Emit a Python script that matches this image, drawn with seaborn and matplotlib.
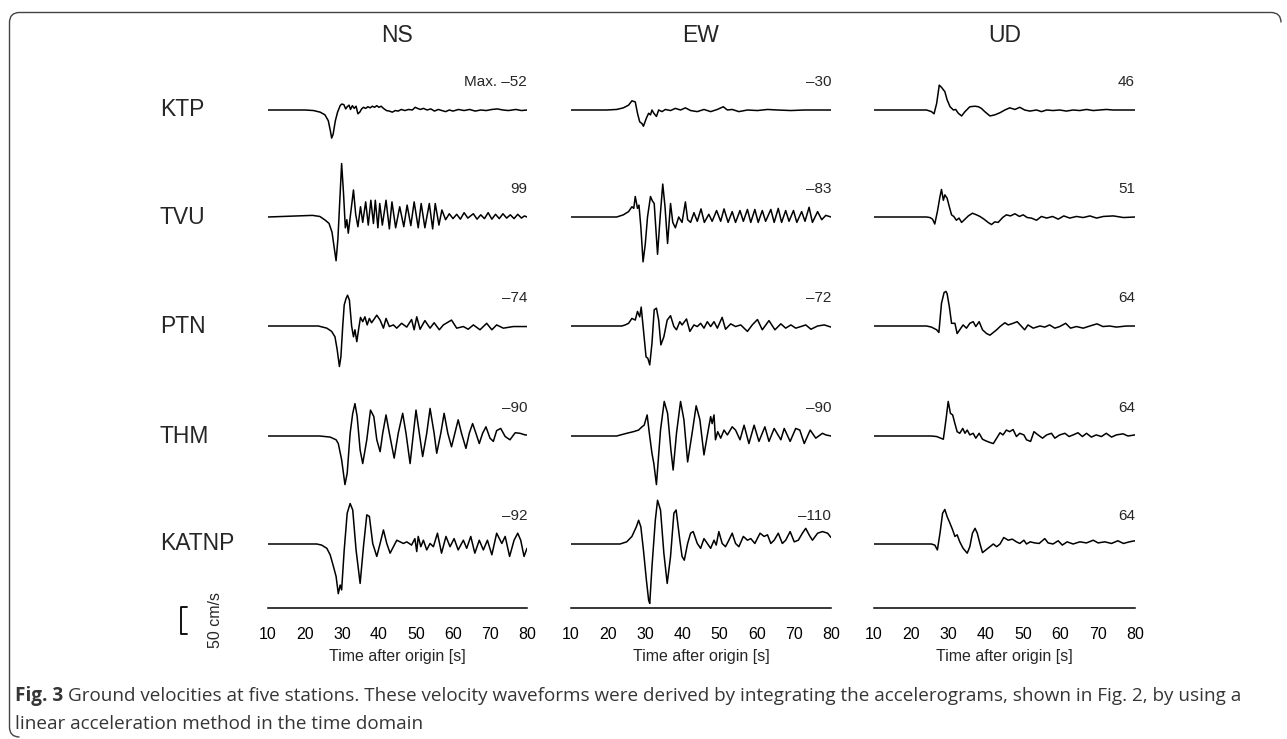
import pandas as pd
import matplotlib
matplotlib.use("Agg")
import matplotlib.pyplot as plt
from matplotlib.path import Path
from matplotlib.patches import PathPatch
from matplotlib.transforms import IdentityTransform
import seaborn as sns

stations = ["KTP", "TVU", "PTN", "THM", "KATNP"]
components = ["NS", "EW", "UD"]
time_ticks = [10, 20, 30, 40, 50, 60, 70, 80]

# peak value written at the right end of each trace (cm/s)
max_ns = ["Max. \u201352", "99", "\u201374", "\u201390", "\u201392"]
max_ew = ["\u201330", "\u201383", "\u201372", "\u201390", "\u2013110"]
max_ud = ["46", "51", "64", "64", "64"]

# velocity waveforms: (time after origin [s], velocity [cm/s])
ktp_ns = [(10, 0), (20, 0), (22.3, -1), (24.1, -4), (25.4, -9), (26.3, -20), (26.9, -40), (27.2, -52),
          (27.6, -45), (28.2, -20), (28.8, -4), (29.5, 8), (29.9, 11), (30.5, 10), (31.0, 2), (31.4, 6),
          (31.9, 9), (32.3, 1), (32.8, 8), (33.3, 3), (33.8, 7), (34.3, -7), (34.8, -4), (35.3, 2),
          (35.8, 5), (36.4, 3), (37.0, 6), (37.6, 4), (38.2, 7), (38.8, 5), (39.4, 8), (40.0, 5),
          (40.6, 7), (41.2, 3), (42.0, -1), (42.8, -2), (43.6, -4), (44.4, -1), (45.2, -2), (46.0, 1),
          (47.0, -1), (48.0, 1), (49.0, 0), (49.8, 5), (50.4, 3), (51.2, 1), (52.0, 3), (53.0, 0),
          (54.0, 2), (55.0, -2), (56.0, 1), (57.0, -1), (58.0, -3), (59.0, 0), (60.0, -2), (61.5, 1),
          (63.0, -1), (64.5, 1), (66.0, -2), (67.5, 0), (69.0, -1), (70.5, 1), (72.0, 2), (73.5, 0),
          (75.0, -1), (77.0, 1), (78.5, -1), (80, 0)]
tvu_ns = [(10, 0), (22, 3), (24, 1), (25.5, -6), (26.5, -12), (27.3, -28), (28.0, -62), (28.4, -81),
          (28.9, -40), (29.4, 30), (29.9, 99), (30.4, 45), (30.9, -20), (31.3, -5), (31.7, -30), (32.4, 10),
          (33.1, 50), (33.7, 5), (34.3, -18), (35.0, 19), (35.6, -10), (36.4, 28), (37.1, -15), (37.8, 31),
          (38.5, -12), (39.0, 31), (39.7, -20), (40.2, 25), (40.9, -15), (41.9, 31), (42.8, -22), (43.5, 28),
          (44.5, -20), (45.6, 19), (46.7, -18), (47.6, 22), (48.6, -16), (49.5, 28), (50.6, -20), (51.4, 25),
          (52.4, -20), (53.6, 25), (54.5, -22), (55.2, 25), (56.2, -15), (57.0, 13), (58.0, -5), (59.0, 6),
          (60.0, -3), (61.0, 5), (62.0, -4), (63.0, 8), (64.0, -2), (65.5, 6), (66.5, -4), (67.5, 4),
          (68.5, -3), (69.5, 8), (70.5, -4), (71.5, 5), (72.5, -3), (73.5, 6), (74.5, -2), (75.5, 4),
          (76.5, -3), (77.5, 5), (78.5, -2), (79.3, 2), (80, 0)]
ptn_ns = [(10, 0), (23.6, 0), (25.9, -4), (27.2, -10), (28.1, -20), (28.7, -44), (29.3, -75), (29.7, -57),
          (30.2, 0), (30.6, 39), (31.1, 51), (31.5, 57), (32.0, 48), (32.6, 0), (33.1, -20), (33.5, -7),
          (34.0, -29), (34.6, -1), (35.0, 16), (35.6, 8), (36.2, 17), (36.8, 2), (37.4, 14), (38.0, 6),
          (39.4, 20), (40.3, 11), (41.2, -4), (41.9, 14), (42.8, -1), (43.9, 2), (44.8, -4), (46.1, 5),
          (47.5, -2), (48.8, 12), (49.5, -7), (50.2, 17), (51.1, -6), (52.4, 10), (53.8, -4), (54.9, 6),
          (56.3, -7), (57.4, 2), (59.6, 11), (61.0, -4), (62.8, -1), (64.1, -6), (65.5, 2), (67.3, -7),
          (69.1, 5), (70.5, -7), (71.8, 2), (73.6, -4), (76.3, -1), (80, -1)]
thm_ns = [(10, 0), (24, 0), (26.8, -2), (28.4, -7), (29.0, -14), (29.9, -44), (30.8, -90), (31.4, -69),
          (32.2, 5), (32.9, 42), (33.5, 60), (34.1, 36), (34.9, -26), (35.6, -51), (36.7, -7), (37.7, 48),
          (38.6, 36), (39.4, -7), (40.3, -29), (41.0, 5), (41.9, 39), (42.8, 5), (44.1, -41), (45.2, 5),
          (46.4, 42), (47.3, 5), (48.4, -51), (49.3, 5), (50.0, 48), (50.9, 5), (51.8, -38), (52.9, 5),
          (53.8, 51), (54.9, 5), (55.6, -32), (56.7, 5), (57.6, 42), (58.6, 5), (59.6, -20), (60.5, 5),
          (61.4, 30), (62.3, 5), (63.5, -23), (64.4, 5), (65.3, 23), (66.2, 5), (67.1, -14), (68.0, 5),
          (68.9, 17), (70.0, -4), (70.9, -10), (71.8, 10), (72.9, 14), (74.1, -1), (75.4, -7), (76.8, 6),
          (78.1, 5), (79.5, 2), (80, 2)]
katnp_ns = [(10, 0), (23.2, 0), (24.5, -2), (25.9, -8), (26.8, -20), (27.7, -42), (28.4, -60), (29.0, -92),
            (29.5, -76), (29.9, -85), (30.6, -11), (31.4, 57), (32.2, 75), (32.9, 63), (33.8, -11), (34.9, -73),
            (35.8, -5), (36.7, 54), (37.4, 51), (38.3, 1), (39.4, -23), (40.3, 1), (41.2, 26), (42.1, 1),
            (43.0, -17), (43.9, -5), (44.8, 7), (45.7, 4), (46.6, 1), (47.5, 4), (48.8, -2), (49.7, 10),
            (50.2, -14), (50.6, 14), (51.3, -5), (52.0, 7), (52.9, -11), (53.8, 1), (54.7, -5), (55.8, 20),
            (56.9, -17), (58.1, 14), (59.2, -5), (60.3, 10), (61.4, -11), (62.8, 7), (63.7, -8), (64.8, 14),
            (65.9, -17), (67.1, 7), (68.2, -11), (69.3, 7), (70.5, -20), (71.8, 20), (73.2, 1), (74.1, 14),
            (75.3, -23), (76.5, 7), (77.5, 20), (78.3, 7), (79.2, -23), (80, -8)]

ktp_ew = [(10, 0), (19.6, 0), (22.3, 1), (24.1, 4), (25.5, 9), (26.4, 17), (27.3, 15), (27.9, -6),
          (28.5, -22), (29.1, -25), (29.5, -30), (30.3, -15), (30.9, -6), (31.4, -9), (31.8, 0), (32.3, -6),
          (33.0, -12), (33.6, 0), (34.5, -3), (35.4, 1), (36.8, -1), (38.1, 3), (39.5, 0), (40.8, 4),
          (42.2, -1), (44.0, -3), (45.8, 1), (47.6, -3), (49.4, 1), (51.0, 6), (52.1, 0), (53.4, 1),
          (55.2, -3), (57.5, 0), (60.2, -1), (62.9, 1), (65.6, 0), (69.2, -1), (72.8, 0), (80, 0)]
tvu_ew = [(10, 0), (22.3, 0), (24.1, 4), (25.5, 10), (26.4, 19), (26.9, 16), (27.3, 38), (27.9, 16),
          (28.3, 22), (28.8, -18), (29.4, -83), (30.0, -50), (30.6, 0), (31.4, 38), (31.9, 30), (32.4, 25),
          (33.3, -69), (34.0, 0), (34.7, 61), (35.3, 20), (36.0, -49), (36.8, 25), (37.4, -10), (38.1, -20),
          (39.0, 0), (39.9, -10), (40.8, 28), (41.4, -5), (42.2, -10), (43.1, 8), (44.0, -8), (45.0, 15),
          (45.9, -10), (47.1, 5), (48.0, -8), (49.2, 12), (50.3, -8), (51.2, 15), (52.3, -10), (53.4, 10),
          (54.3, -10), (55.5, 12), (56.4, -8), (57.5, 14), (58.4, -10), (59.5, 14), (60.4, -10), (61.5, 12),
          (62.4, -8), (63.8, 14), (64.7, -10), (65.8, 16), (66.7, -10), (67.8, 12), (68.7, -8), (69.9, 12),
          (70.8, -10), (72.1, 10), (73.0, -8), (74.1, 18), (75.0, -10), (76.4, 10), (77.5, -5), (78.6, 3),
          (80, 0)]
ptn_ew = [(10, 0), (23.7, 0), (24.6, 2), (25.5, 5), (26.4, 14), (27.3, 11), (27.9, 27), (28.5, 17),
          (28.9, 35), (29.5, -7), (30.2, -57), (30.7, -60), (31.2, -72), (31.8, -32), (32.4, 30), (33.0, 33),
          (33.6, 11), (34.2, -35), (35.0, -20), (35.9, 11), (36.8, 19), (37.7, -1), (38.4, -7), (39.3, 8),
          (39.9, 2), (41.1, 13), (42.0, -10), (43.1, 2), (44.0, -1), (44.9, 5), (45.8, -4), (46.7, 8),
          (47.6, -1), (48.5, 8), (49.4, -4), (50.7, 16), (51.6, -6), (53.0, 4), (54.3, -1), (55.7, 2),
          (57.5, -10), (58.8, 2), (60.2, 12), (61.5, -7), (63.3, 10), (64.9, -7), (66.5, 4), (67.8, -4),
          (69.2, 2), (70.5, -4), (71.9, -1), (73.2, 2), (74.6, -6), (76.4, 0), (78.2, 2), (80, -2)]
thm_ew = [(10, 0), (22.3, 0), (25.0, 5), (26.8, 8), (28.2, 11), (29.1, 17), (29.7, 20), (30.5, 39),
          (31.2, -1), (31.8, -32), (32.3, -51), (33.0, -90), (34.1, 11), (35.1, 64), (36.0, 42), (36.9, -26),
          (37.5, -63), (38.4, 5), (39.5, 64), (40.4, 30), (41.4, -48), (42.6, 5), (43.7, 56), (44.7, 30),
          (45.8, -35), (46.8, 5), (47.6, 36), (48.0, 23), (48.5, 39), (48.9, -7), (49.5, 8), (50.3, -4),
          (51.2, 11), (52.1, 2), (53.4, 17), (54.3, 11), (55.5, -7), (56.6, 20), (57.9, -14), (59.3, 20),
          (60.6, -10), (62.2, 17), (63.3, -10), (64.7, 14), (66.5, -7), (67.4, 14), (69.0, -10), (70.5, 14),
          (71.6, 11), (72.8, -14), (74.4, 11), (75.9, -4), (77.7, 5), (78.6, 2), (80, 0)]
katnp_ew = [(10, 0), (23.2, 0), (25.0, 4), (26.4, 14), (27.6, 32), (28.2, 44), (28.8, 32), (29.5, -11),
            (30.3, -67), (30.9, -104), (31.2, -110), (31.8, -42), (32.7, 44), (33.3, 81), (34.1, 63), (35.0, -17),
            (35.9, -73), (36.8, -23), (37.7, 57), (38.3, 63), (39.3, 7), (39.9, -23), (40.5, -30), (41.4, 1),
            (42.2, 20), (42.9, 23), (44.0, 1), (44.9, -8), (45.8, 10), (46.7, 1), (47.6, -8), (48.5, 7),
            (49.1, -2), (49.8, 23), (50.7, 1), (51.6, -5), (52.5, 7), (53.4, 20), (54.3, 1), (55.2, -5),
            (56.4, 14), (57.5, 7), (58.4, 10), (59.5, 1), (60.9, 20), (62.0, 14), (62.9, 17), (63.8, 1),
            (64.7, 7), (65.8, 20), (66.9, 1), (67.8, 7), (69.0, 23), (70.1, 4), (71.2, 7), (72.3, 20),
            (73.2, 29), (74.1, 17), (75.0, 7), (76.4, 20), (77.7, 23), (79.1, 20), (80, 12)]

ktp_ud = [(10, 0), (24.1, 0), (25.4, -3), (26.1, -7), (26.8, 12), (27.5, 46), (28.1, 42), (29.0, 34),
          (29.6, 19), (30.4, 6), (31.3, 0), (31.9, 1), (32.6, -6), (33.5, -11), (34.4, -3), (35.7, 6),
          (37.1, 7), (38.0, 6), (38.8, 3), (39.7, -3), (41.1, -11), (42.4, -9), (43.8, -5), (45.1, 0),
          (46.4, 4), (47.8, 1), (49.1, 5), (50.4, 0), (51.8, -2), (53.6, 0), (54.9, -3), (56.3, 0),
          (58.0, -1), (59.8, 0), (61.6, -2), (63.4, 0), (65.2, -1), (67.0, 1), (68.8, -1), (70.5, 0),
          (72.3, 1), (74.1, 0), (80, 0)]
tvu_ud = [(10, 0), (24.1, 0), (25.0, -1), (25.7, -4), (26.3, -13), (27.0, 10), (27.7, 38), (28.1, 51),
          (28.6, 31), (29.0, 41), (29.6, 35), (30.2, 19), (30.8, 4), (31.4, 1), (32.1, -6), (32.8, -2),
          (33.5, -10), (34.4, -4), (35.3, 2), (36.4, 7), (37.5, 4), (38.4, 1), (39.5, -4), (40.6, -10),
          (41.5, -14), (42.4, -9), (43.3, -10), (44.5, -1), (45.5, 4), (46.6, 2), (47.8, 6), (49.0, 1),
          (50.0, 4), (51.1, -1), (52.2, -2), (53.6, -6), (54.9, 1), (56.3, -2), (57.9, 1), (59.4, -4),
          (60.9, 2), (62.5, -2), (64.3, 1), (66.1, -1), (67.9, 2), (69.7, -2), (71.5, 1), (74.2, 2),
          (76.9, -1), (80, 0)]
ptn_ud = [(10, 0), (24.1, 0), (25.4, -2), (26.8, -7), (27.4, -12), (28.1, 42), (28.8, 62), (29.3, 64),
          (29.6, 60), (30.2, 36), (30.8, 5), (31.7, 5), (32.3, -14), (33.0, -7), (33.9, 2), (34.8, -4),
          (35.7, 5), (36.6, 8), (37.3, -1), (38.2, 8), (39.1, -7), (40.2, -14), (41.1, -17), (42.0, -12),
          (42.9, -7), (43.8, -1), (45.1, 6), (46.0, 2), (47.3, 5), (48.4, 8), (49.6, -1), (50.4, -7),
          (51.3, 2), (52.7, -4), (54.5, 0), (55.8, -2), (57.1, 2), (58.5, -4), (59.8, -1), (61.4, 5),
          (62.7, -4), (64.3, -1), (66.1, -4), (67.9, 0), (69.8, 4), (71.4, -1), (73.2, 0), (75.0, -2),
          (77.7, 0), (80, 0)]
thm_ud = [(10, 0), (24.1, 0), (25.4, 0), (26.8, -1), (27.9, -4), (28.6, -6), (29.3, 30), (29.9, 64),
          (30.5, 42), (31.1, 39), (31.7, 23), (32.3, 8), (33.0, 5), (33.8, 14), (34.4, 5), (35.0, 11),
          (35.7, 2), (36.6, 5), (37.3, -4), (38.2, 5), (39.1, -6), (40.0, -9), (41.1, -12), (42.0, -14),
          (42.9, -4), (43.8, 6), (44.6, 2), (45.5, 11), (46.4, 8), (47.3, 12), (48.2, -1), (49.1, 5),
          (50.2, 2), (50.9, -7), (52.0, -10), (52.9, 8), (54.0, 2), (55.2, -4), (56.3, 2), (57.6, 5),
          (58.5, -4), (59.8, 2), (61.2, 5), (62.3, -1), (63.4, 2), (64.7, 6), (65.9, -1), (67.0, 5),
          (68.3, -2), (69.6, 2), (71.0, -1), (72.3, 5), (73.7, -2), (75.0, 2), (76.8, 4), (78.1, 0), (80, 2)]
katnp_ud = [(10, 0), (24.1, 0), (25.4, 0), (26.3, -2), (27.0, -11), (27.7, 20), (28.4, 57), (29.0, 64),
            (29.6, 51), (30.4, 38), (31.1, 26), (31.7, 14), (32.3, 17), (33.0, 4), (33.9, -8), (35.0, -17),
            (35.7, -5), (36.4, 20), (37.1, 29), (37.7, 20), (38.4, 1), (39.1, -16), (40.0, -11), (41.1, -5),
            (42.0, 0), (42.9, -5), (43.8, 0), (44.8, 12), (46.0, 7), (47.1, 9), (48.2, 4), (49.1, 1),
            (50.2, 7), (50.9, 0), (51.9, 4), (53.1, 2), (54.3, 1), (55.8, 10), (56.7, 2), (58.0, 0),
            (59.4, 6), (60.5, -2), (61.8, 4), (63.4, 0), (65.2, 4), (67.0, 2), (68.8, 7), (70.1, 2),
            (71.9, 4), (73.7, 1), (75.4, 6), (76.9, 1), (78.5, 4), (80, 6)]

traces = {
    "NS": [ktp_ns, tvu_ns, ptn_ns, thm_ns, katnp_ns],
    "EW": [ktp_ew, tvu_ew, ptn_ew, thm_ew, katnp_ew],
    "UD": [ktp_ud, tvu_ud, ptn_ud, thm_ud, katnp_ud],
}
max_labels = {"NS": max_ns, "EW": max_ew, "UD": max_ud}

# ---- layout (pixels of the 1287x739 output) ----
W, H = 1287, 739
col_left = [268, 571, 874]
col_width = [259, 260, 261]
ax_top, ax_bot = 60, 608
base_px = [110, 217, 326, 436, 544]      # baseline of each station row
px_per_cms = 27 / 50                      # 50 cm/s scale bar is 27 px tall
offsets = [(ax_bot - b) / px_per_cms for b in base_px]

rows = []
for comp in components:
    for st, off, tr in zip(stations, offsets, traces[comp]):
        for t, v in tr:
            rows.append({"comp": comp, "station": st, "time": t, "vel": v, "y": v + off})
df = pd.DataFrame(rows)

sns.set_style("white")
plt.rcParams["font.family"] = ["Liberation Sans", "DejaVu Sans"]

fig = plt.figure(figsize=(W / 100, H / 100), dpi=100)

for i, comp in enumerate(components):
    ax = fig.add_axes([col_left[i] / W, 1 - ax_bot / H, col_width[i] / W, (ax_bot - ax_top) / H])
    sns.lineplot(data=df[df["comp"] == comp], x="time", y="y", units="station",
                 estimator=None, sort=False, color="black", lw=1.1, ax=ax)
    ax.set_xlim(10, 80)
    ax.set_ylim(0, (ax_bot - ax_top) / px_per_cms)
    sns.despine(ax=ax, left=True)
    ax.set_yticks([])
    ax.set_ylabel("")
    ax.set_xticks(time_ticks)
    ax.set_xticklabels([str(t) for t in time_ticks], fontsize=11.5)
    ax.tick_params(axis="x", direction="out", length=6.5, width=1.1, pad=7, colors="black")
    ax.spines["bottom"].set_linewidth(1.1)
    ax.spines["bottom"].set_color("black")
    ax.set_xlabel("Time after origin [s]", fontsize=11.5, labelpad=5)

    for off, lab in zip(offsets, max_labels[comp]):
        ax.text(80, off + 52, lab, ha="right", va="center", fontsize=11)

    fig.text((col_left[i] + col_width[i] / 2) / W, 1 - 36 / H, comp,
             ha="center", va="center", fontsize=16.5)

    if comp == "NS":
        # 50 cm/s scale bar
        ax.plot([-11.9, -13.5, -13.5, -11.9], [2, 2, -48, -48], color="black", lw=1.3, clip_on=False)
        ax.text(-4.2, -23, "50 cm/s", rotation=90, ha="center", va="center", fontsize=11.5)

for st, b in zip(stations, base_px):
    fig.text(160 / W, 1 - b / H, st, ha="left", va="center", fontsize=16.5)

# caption
cap_font = ["Open Sans", "DejaVu Sans"]
cap_col = "#353535"
cap_size = 13.6
rend = fig.canvas.get_renderer()
t1 = fig.text(15 / W, 1 - 696 / H, "Fig. 3", family=cap_font, fontweight="bold",
              fontsize=cap_size, color=cap_col, va="center")
bb = t1.get_window_extent(rend)
fig.text((bb.x1 + 5) / W, 1 - 696 / H,
         "Ground velocities at five stations. These velocity waveforms were derived by integrating "
         "the accelerograms, shown in Fig. 2, by using a",
         family=cap_font, fontsize=cap_size, color=cap_col, va="center")
fig.text(15 / W, 1 - 724 / H, "linear acceleration method in the time domain",
         family=cap_font, fontsize=cap_size, color=cap_col, va="center")

# rounded frame around the figure
r = 10
verts = [(9.5 + r, H - 737), (9.5, H - 737), (9.5, H - 737 + r),
         (9.5, H - 12.5 - r), (9.5, H - 12.5), (9.5 + r, H - 12.5),
         (1281 - r, H - 12.5), (1281, H - 12.5), (1281, H - 12.5 - r)]
codes = [Path.MOVETO, Path.CURVE3, Path.CURVE3,
         Path.LINETO, Path.CURVE3, Path.CURVE3,
         Path.LINETO, Path.CURVE3, Path.CURVE3]
fig.add_artist(PathPatch(Path(verts, codes), fill=False, edgecolor="#444444", lw=1.0,
                         transform=IdentityTransform()))

fig.savefig("out.png", dpi=100)
